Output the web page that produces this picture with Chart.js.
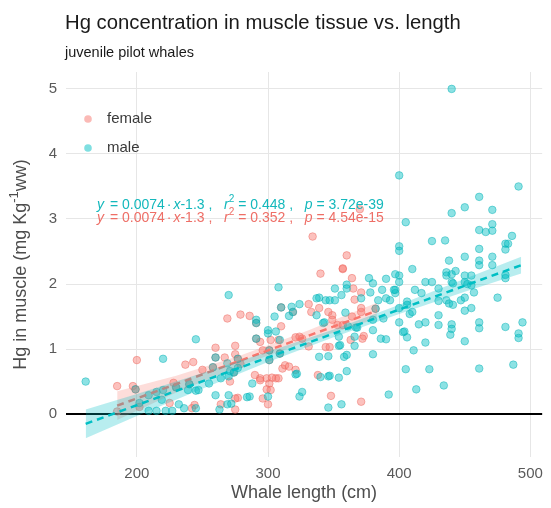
<!DOCTYPE html>
<html>
<head>
<meta charset="utf-8">
<script src="https://cdn.jsdelivr.net/npm/chart.js@4.4.1/dist/chart.umd.min.js"></script>
<style>
  html, body { margin: 0; padding: 0; background: #fff; }
  #wrap { width: 551px; height: 508px; }
</style>
</head>
<body>
<div id="wrap"><canvas id="hgChart" width="551" height="508"></canvas></div>
<script>
// ── Data ────────────────────────────────────────────────────
const xTicks = [200, 300, 400, 500];
const yTicks = [0, 1, 2, 3, 4, 5];
const legendLabels = ["female", "male"];

// [length cm, Hg mg/kg]
const femalePoints = [
  [334,2.73],[360,2.44],[370,3.15],[340,2.16],[357,2.23],[357,2.24],[364,2.09],[365,1.93],[366,1.76],[371,1.87],
  [331,1.69],[310,1.64],[319,1.57],[333,1.57],[339,1.63],[346,1.57],[349,1.52],[364,1.50],[371,1.63],[371,1.57],
  [382,1.62],[349,1.45],[353,1.37],[357,1.37],[373,1.20],[372,1.16],[344,1.03],[347,1.03],[321,1.18],[324,1.19],
  [326,1.16],[331,1.04],[311,0.70],[313,0.75],[316,0.73],[321,0.68],[338,0.60],[348,0.28],[371,0.19],[363,1.14],
  [279,1.53],[286,1.51],[302,1.14],[296,0.98],[301,0.98],[279,0.77],[299,0.55],[301,0.47],[294,0.55],[306,0.55],
  [308,0.55],[299,0.38],[302,0.37],[300,0.15],[277,0.25],[269,1.47],[310,1.35],[294,1.11],[308,1.14],[260,1.02],
  [275,1.05],[275,0.92],[267,0.87],[237,0.76],[243,0.80],[250,0.68],[271,0.50],[290,0.60],[294,0.52],[303,0.56],
  [296,0.24],[264,0.15],[275,0.07],[275,0.24],[244,0.14],[242,0.09],[200,0.83],[185,0.43],[197,0.43],[185,0.04],
  [202,0.11],[228,0.48],[225,0.17],[199,0.38],[230,0.41],[240,0.46],[258,0.72],[260,0.87],[291,1.16],[291,1.40],
  [301,0.83],[277,0.85],[274,0.64],[309,0.93]
];

const malePoints = [
  [440,5.00],[400,3.67],[491,3.50],[461,3.34],[450,3.18],[440,3.09],[471,3.14],[405,2.95],[471,2.92],[461,2.83],
  [466,2.80],[471,2.82],[486,2.74],[425,2.66],[435,2.67],[400,2.58],[481,2.62],[483,2.62],[461,2.54],[400,2.51],
  [481,2.53],[450,2.42],[438,2.36],[461,2.36],[461,2.29],[471,2.42],[471,2.29],[410,2.23],[436,2.18],[436,2.13],
  [443,2.20],[440,2.15],[450,2.13],[455,2.13],[481,2.14],[481,2.09],[400,2.13],[400,2.03],[420,2.03],[425,2.03],
  [440,2.03],[441,2.01],[450,2.03],[452,2.00],[455,1.98],[397,1.86],[412,1.91],[417,1.86],[430,1.93],[430,1.74],
  [436,1.75],[438,1.70],[441,1.68],[447,1.75],[450,1.79],[457,1.87],[475,1.79],[406,1.73],[406,1.68],[400,1.63],
  [408,1.54],[410,1.57],[450,1.59],[455,1.63],[430,1.52],[400,1.41],[415,1.38],[420,1.41],[430,1.37],[440,1.38],
  [440,1.31],[439,1.22],[403,1.26],[404,1.27],[406,1.18],[461,1.41],[461,1.32],[481,1.34],[494,1.41],[491,1.24],
  [491,1.17],[420,1.10],[450,1.12],[411,0.98],[405,0.69],[423,0.69],[461,0.70],[487,0.76],[413,0.38],[434,0.44],
  [360,1.99],[360,1.93],[377,2.09],[380,2.01],[390,2.08],[397,2.15],[397,1.91],[308,1.95],[351,1.93],[339,1.79],
  [344,1.75],[347,1.75],[351,1.75],[356,1.83],[371,1.78],[378,1.87],[384,1.75],[387,1.91],[390,1.78],[393,1.75],
  [396,1.91],[324,1.69],[318,1.65],[310,1.64],[319,1.57],[316,1.51],[337,1.52],[359,1.56],[382,1.62],[380,1.45],
  [380,1.29],[388,1.47],[342,1.40],[343,1.41],[361,1.35],[367,1.33],[368,1.33],[366,1.19],[354,1.19],[354,1.05],
  [355,1.06],[366,1.05],[309,1.14],[309,0.93],[339,0.88],[346,0.89],[358,0.88],[360,0.91],[380,0.92],[386,1.16],
  [390,1.15],[321,0.61],[322,0.62],[340,0.57],[346,0.58],[347,0.59],[354,0.56],[360,0.66],[326,0.34],[324,0.27],
  [356,0.15],[346,0.10],[392,0.30],[291,1.45],[305,1.50],[300,1.29],[291,1.16],[301,0.98],[301,0.83],[277,0.71],
  [288,0.47],[300,0.27],[286,0.27],[337,1.78],[270,1.83],[291,1.40],[306,1.27],[300,1.24],[245,1.15],[260,0.87],
  [277,0.85],[258,0.72],[269,0.78],[271,0.66],[274,0.64],[264,0.55],[255,0.47],[247,0.37],[240,0.46],[239,0.37],
  [284,0.26],[260,0.29],[270,0.29],[269,0.15],[272,0.16],[263,0.07],[245,0.09],[236,0.09],[270,0.58],[161,0.50],
  [220,0.85],[199,0.38],[202,0.17],[209,0.29],[215,0.34],[220,0.37],[219,0.22],[230,0.41],[232,0.15],[209,0.05],
  [215,0.05],[222,0.05],[227,0.05],[245,0.36]
];

// fitted lines (end points) and confidence bands
const maleFitX    = [161, 493];
const maleFitY    = [-0.15, 2.29];
const maleBandX   = [161, 200, 250, 300, 350, 400, 450, 493];
const maleBandLo  = [-0.37, -0.03, 0.39, 0.80, 1.18, 1.54, 1.88, 2.16];
const maleBandHi  = [0.07, 0.31, 0.63, 0.96, 1.30, 1.68, 2.08, 2.42];

const femaleFitX   = [185, 383];
const femaleFitY   = [0.13, 1.59];
const femaleBandX  = [185, 230, 280, 330, 383];
const femaleBandLo = [-0.09, 0.33, 0.75, 1.12, 1.47];
const femaleBandHi = [0.35, 0.59, 0.91, 1.28, 1.71];

// equation labels: male first, female second
const eqSlope     = ["0.0074", "0.0074"];
const eqIntercept = ["-1.3", "-1.3"];
const eqR2        = ["0.448", "0.352"];
const eqP         = ["3.72e-39", "4.54e-15"];

const titleText    = "Hg concentration in muscle tissue vs. length";
const subtitleText = "juvenile pilot whales";

// ── Styling ─────────────────────────────────────────────────
const FONT   = "'Liberation Sans', Arial, sans-serif";
const MALE   = "#00BFC4";
const FEMALE = "#F8766D";
const GRID   = "#e6e6e6";
const TEXT   = "#4d4d4d";

const toXY  = (xs, ys) => xs.map((x, i) => ({ x, y: ys[i] }));
const toPts = pts => pts.map(p => ({ x: p[0], y: p[1] }));

function drawRich(ctx, parts, x, y, size, color) {
  let cx = x;
  parts.forEach(p => {
    const fs = p.sup ? size * 0.72 : size;
    ctx.font = (p.it ? "italic " : "") + fs + "px " + FONT;
    ctx.fillStyle = color;
    ctx.fillText(p.t, cx, p.sup ? y - size * 0.38 : y);
    cx += ctx.measureText(p.t).width + (p.gap || 0);
  });
  return cx - x;
}

function richWidth(ctx, parts, size) {
  let w = 0;
  parts.forEach(p => {
    ctx.font = (p.it ? "italic " : "") + (p.sup ? size * 0.72 : size) + "px " + FONT;
    w += ctx.measureText(p.t).width + (p.gap || 0);
  });
  return w;
}

function eqParts(i) {
  return [
    { t: "y", it: true, gap: 2 }, { t: " = " + eqSlope[i], gap: 2 }, { t: "·", gap: 2 },
    { t: "x", it: true }, { t: eqIntercept[i] + " ,   " }, { t: "r", it: true }, { t: "2", sup: true },
    { t: " = " + eqR2[i] + " ,   " }, { t: "p", it: true }, { t: " = " + eqP[i] }
  ];
}

const yTitleParts = [
  { t: "Hg in muscle (mg Kg" }, { t: "-1", sup: true }, { t: "ww)" }
];

// ── Titles, legend, equations, y title ──────────────────────
const annotations = {
  id: "annotations",
  afterDraw(chart) {
    const { ctx, chartArea: a } = chart;
    ctx.save();
    ctx.textBaseline = "middle";
    ctx.textAlign = "left";

    ctx.fillStyle = "#1a1a1a";
    ctx.font = "20.3px " + FONT;
    ctx.fillText(titleText, a.left - 1, 23);
    ctx.font = "14.5px " + FONT;
    ctx.fillText(subtitleText, a.left - 1, 53);

    const legColors = [FEMALE, MALE];
    legendLabels.forEach((lab, i) => {
      const y = 119 + i * 29;
      ctx.beginPath();
      ctx.arc(a.left + 22, y, 3.8, 0, Math.PI * 2);
      ctx.fillStyle = legColors[i] + "80";
      ctx.fill();
      ctx.font = "15px " + FONT;
      ctx.fillStyle = "#3a3a3a";
      ctx.fillText(lab, a.left + 41, y);
    });

    drawRich(ctx, eqParts(0), a.left + 31, 205, 14, "#14b8bc");
    drawRich(ctx, eqParts(1), a.left + 31, 218, 14, "#ee6e66");

    ctx.save();
    ctx.translate(21, (a.top + a.bottom) / 2);
    ctx.rotate(-Math.PI / 2);
    const w = richWidth(ctx, yTitleParts, 18);
    drawRich(ctx, yTitleParts, -w / 2, 0, 18, TEXT);
    ctx.restore();

    ctx.restore();
  }
};

// ── Chart ───────────────────────────────────────────────────
const lineBase = { pointRadius: 0, borderWidth: 0, fill: false, tension: 0 };

new Chart(document.getElementById("hgChart"), {
  type: "line",
  data: {
    datasets: [
      { ...lineBase, label: "male fit", data: toXY(maleFitX, maleFitY),
        borderColor: MALE, borderWidth: 2.5, borderDash: [7, 5] },
      { ...lineBase, label: "male band", data: toXY(maleBandX, maleBandHi),
        fill: "+1", backgroundColor: "rgba(0,191,196,0.28)" },
      { ...lineBase, label: "male band lo", data: toXY(maleBandX, maleBandLo) },
      { ...lineBase, label: "female fit", data: toXY(femaleFitX, femaleFitY),
        borderColor: FEMALE, borderWidth: 2.5, borderDash: [7, 5] },
      { ...lineBase, label: "female band", data: toXY(femaleBandX, femaleBandHi),
        fill: "+1", backgroundColor: "rgba(248,118,109,0.25)" },
      { ...lineBase, label: "female band lo", data: toXY(femaleBandX, femaleBandLo) },
      {
        label: "male", data: toPts(malePoints), showLine: false,
        pointRadius: 3.8, pointBackgroundColor: "rgba(0,191,196,0.45)",
        pointBorderColor: "rgba(0,175,180,0.45)", pointBorderWidth: 1
      },
      {
        label: "female", data: toPts(femalePoints), showLine: false,
        pointRadius: 3.8, pointBackgroundColor: "rgba(248,118,109,0.45)",
        pointBorderColor: "rgba(235,100,92,0.45)", pointBorderWidth: 1
      }
    ]
  },
  options: {
    responsive: false,
    animation: false,
    events: [],
    layout: { padding: { top: 72, right: 0, left: 0, bottom: 0 } },
    plugins: { legend: { display: false }, tooltip: { enabled: false } },
    scales: {
      x: {
        type: "linear", min: 146, max: 509,
        afterBuildTicks: s => { s.ticks = xTicks.map(v => ({ value: v })); },
        afterFit: s => { s.height = 51; },
        grid: { color: GRID, drawTicks: false },
        border: { display: false },
        ticks: { padding: 8, color: "#5a5a5a", font: { family: FONT, size: 15 } },
        title: {
          display: true, text: "Whale length (cm)", color: TEXT,
          font: { family: FONT, size: 18 }, padding: { top: 0, bottom: 4 }
        }
      },
      y: {
        type: "linear", min: -0.66, max: 5.26,
        afterBuildTicks: s => { s.ticks = yTicks.map(v => ({ value: v })); },
        afterFit: s => { s.width = 66; },
        grid: {
          color: c => (c.tick && c.tick.value === 0 ? "#000" : GRID),
          lineWidth: c => (c.tick && c.tick.value === 0 ? 2 : 1),
          drawTicks: false
        },
        border: { display: false },
        ticks: { padding: 9, color: "#5a5a5a", font: { family: FONT, size: 15 } }
      }
    }
  },
  plugins: [annotations]
});
</script>
</body>
</html>
